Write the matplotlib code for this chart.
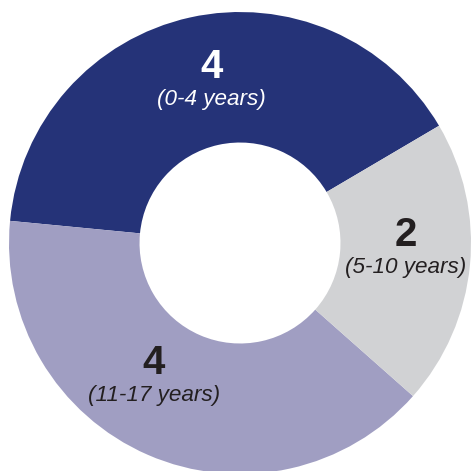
import matplotlib.pyplot as plt
import numpy as np

counts = [4, 4, 2]
ranges = ['(0-4 years)', '(11-17 years)', '(5-10 years)']
colors = ['#253378', '#a09ec2', '#d1d2d4']
text_colors = ['white', '#231f20', '#231f20']
# small angular nudges (deg) and radii for the label blocks
nudge = [-2, -8, 1]
radius = [0.685, 0.715, 0.72]

plt.rcParams['font.family'] = ['Liberation Sans', 'DejaVu Sans']

fig = plt.figure(figsize=(4.71, 4.71), dpi=100)
ax = fig.add_axes([0, 0, 1, 1])

wedges, _ = ax.pie(counts, colors=colors, startangle=30.5, counterclock=True,
                   radius=1, wedgeprops=dict(width=0.565, linewidth=0))

for w, n, lab, tc, dth, r in zip(wedges, counts, ranges, text_colors, nudge, radius):
    mid = np.deg2rad((w.theta1 + w.theta2) / 2 + dth)
    x, y = r*np.cos(mid), r*np.sin(mid)
    ax.text(x, y + 0.008, str(n), ha='center', va='bottom', fontsize=29,
            fontweight='bold', color=tc)
    ax.text(x, y - 0.005, lab, ha='center', va='top', fontsize=16.2,
            fontstyle='italic', color=tc)

ax.set_xlim(-1.039, 1.0)
ax.set_ylim(-0.987, 1.052)
ax.set_aspect('auto')
ax.axis('off')

fig.savefig('out.png', dpi=100)
